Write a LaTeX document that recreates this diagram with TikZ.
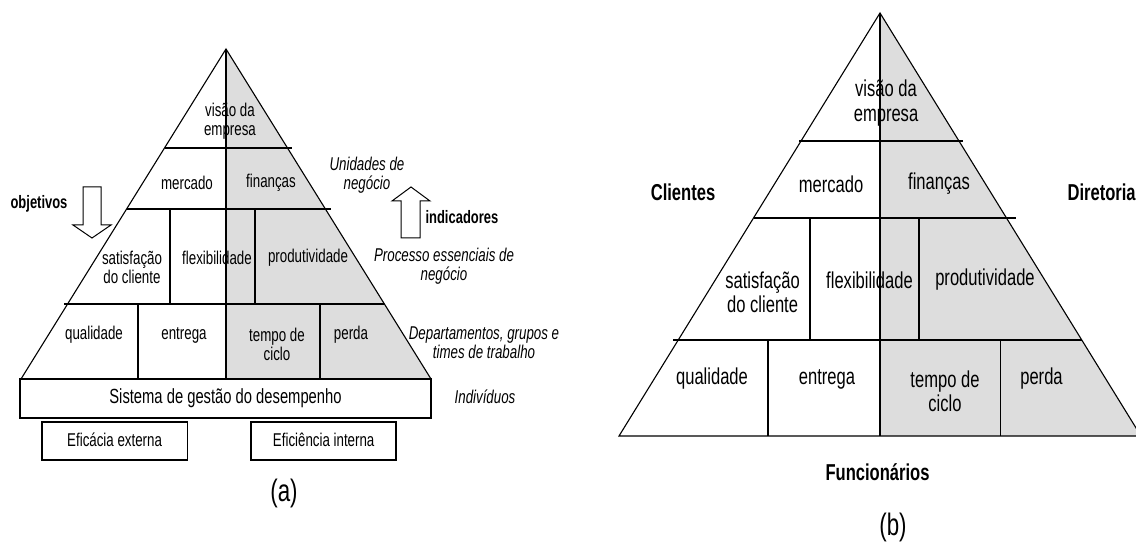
\documentclass[tikz,border=0pt]{standalone}
\usepackage{fontspec}
\setmainfont{Liberation Sans}[FakeStretch=0.72]
\usepackage{tikz}

\definecolor{halfgray}{HTML}{DDDDDD}

\tikzset{
  cell/.style={font=\fontsize{18.5}{19}\selectfont, align=center, inner sep=0pt},
  bigcell/.style={font=\fontsize{23}{24.5}\selectfont, align=center, inner sep=0pt},
  level/.style={font=\itshape\fontsize{18.5}{19}\selectfont, align=center, inner sep=0pt},
  tag/.style={font=\bfseries\fontsize{18}{19}\selectfont, inner sep=0pt},
  bigtag/.style={font=\bfseries\fontsize{23}{24}\selectfont, inner sep=0pt},
  caption/.style={font=\fontsize{31}{32}\selectfont, inner sep=0pt},
  blockarrow/.style={draw, fill=white, line width=1pt, line join=miter},
}

\begin{document}
\begin{tikzpicture}[x=1pt, y=-1pt, line width=1.1pt]
  \useasboundingbox (0,0) rectangle (1136,545);
  \clip (0,0) rectangle (1136,545);

  % ---------- (a) ----------
  % Right half (filled)
  \fill[halfgray] (226,49) -- (226,379) -- (431,379) -- cycle;

  % Pyramid
  \draw (226,49) -- (21,379) -- (431,379) -- cycle;
  \draw (226,49) -- (226,379);

  % Levels
  \draw (164.5,148) -- (292,148);
  \draw (126.6,209) -- (331,209);
  \draw (64,304) -- (384.4,304);

  % Cells
  \draw (170,209) -- (170,304);
  \draw (255,209) -- (255,304);
  \draw (138,304) -- (138,379);
  \draw (320,304) -- (320,379);

  % Boxes below
  \draw (20,379) rectangle (431,418);
  \draw (42,422) rectangle (187.5,460);
  \draw (251,422) rectangle (396,460);

  % Cell labels
  \node[cell] (a-visao) at (230,121) {visão da\\empresa};
  \node[cell] (a-mercado) at (187,183) {mercado};
  \node[cell] (a-financas) at (271,183) {finanças};
  \node[cell] (a-satisf) at (132,267.5) {satisfação\\do cliente};
  \node[cell] (a-flex) at (217,258) {flexibilidade};
  \node[cell] (a-prod) at (308,258) {produtividade};
  \node[cell] (a-qual) at (94,335) {qualidade};
  \node[cell] (a-entrega) at (184,335) {entrega};
  \node[cell] (a-tempo) at (277,344) {tempo de\\ciclo};
  \node[cell] (a-perda) at (351,335) {perda};
  \node[cell, font=\fontsize{20.5}{21}\selectfont] (a-sistema) at (225.5,398)
    {Sistema de gestão do desempenho};
  \node[cell] (a-eficacia) at (114.6,440) {Eficácia externa};
  \node[cell] (a-eficiencia) at (323.7,440) {Eficiência interna};

  % Arrows
  \draw[blockarrow] (83,187) -- (101,187) -- (101,225) -- (111,225) -- (92,238)
    -- (73,225) -- (83,225) -- cycle;
  \draw[blockarrow] (401,238) -- (420,238) -- (420,201) -- (430,201) -- (411,187)
    -- (392,201) -- (401,201) -- cycle;
  \node[tag, anchor=east] (a-objetivos) at (68,204) {objetivos};
  \node[tag, anchor=west] (a-indicadores) at (425,217) {indicadores};

  % Level names
  \node[level] (a-unidades) at (367,175.5) {Unidades de\\negócio};
  \node[level] (a-processo) at (444,266) {Processo essenciais de\\negócio};
  \node[level] (a-depto) at (484,342.5) {Departamentos, grupos e\\times de trabalho};
  \node[level] (a-indiv) at (485,397) {Indivíduos};

  \node[caption] (a-caption) at (284,493) {(a)};

  % ---------- (b) ----------
  % Right half (filled)
  \fill[halfgray] (880,13) -- (880,436) -- (1141,436) -- cycle;

  % Pyramid
  \draw (880,13) -- (619,436) -- (1141,436) -- cycle;
  \draw (880,13) -- (880,436);

  % Levels
  \draw (799,141) -- (963,141);
  \draw (753.5,218) -- (1015.5,218);
  \draw (673,340) -- (1082,340);

  % Cells
  \draw (810,218) -- (810,340);
  \draw (919,218) -- (919,340);
  \draw (768,340) -- (768,436);
  \draw (1000.5,340) -- (1000.5,436);

  % Cell labels
  \node[bigcell] (b-visao) at (886,103) {visão da\\empresa};
  \node[bigcell] (b-mercado) at (831,184) {mercado};
  \node[bigcell] (b-financas) at (939,184) {finanças};
  \node[bigcell] (b-satisf) at (762.6,292.5) {satisfação\\do cliente};
  \node[bigcell] (b-flex) at (869.5,280) {flexibilidade};
  \node[bigcell] (b-prod) at (985,280) {produtividade};
  \node[bigcell] (b-qual) at (712,379) {qualidade};
  \node[bigcell] (b-entrega) at (827,379) {entrega};
  \node[bigcell] (b-tempo) at (945,391.5) {tempo de\\ciclo};
  \node[bigcell] (b-perda) at (1041.5,379) {perda};

  % Stakeholders
  \node[bigtag] (b-clientes) at (683,192) {Clientes};
  \node[bigtag, anchor=west] (b-diretoria) at (1067,192) {Diretoria};
  \node[bigtag] (b-func) at (877.5,472) {Funcionários};

  \node[caption] (b-caption) at (893,527) {(b)};
\end{tikzpicture}
\end{document}
